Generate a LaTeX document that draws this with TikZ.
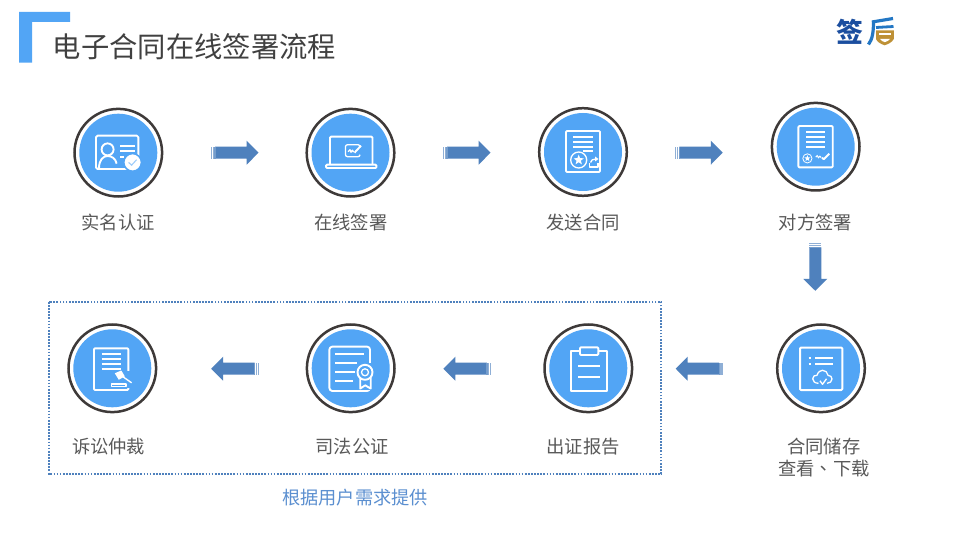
\documentclass[tikz,border=0pt]{standalone}
\usepackage{fontspec}
\setmainfont{Noto Sans CJK SC}
\newfontfamily\tcfont{Noto Sans CJK TC}
\definecolor{skyfill}{HTML}{52A5F5}
\definecolor{ringdark}{HTML}{3E3A39}
\definecolor{steelblue}{HTML}{4F81BD}
\definecolor{stripeblue}{HTML}{8FAFD6}
\definecolor{labelgrey}{HTML}{595959}
\definecolor{titlegrey}{HTML}{404040}
\definecolor{notecolor}{HTML}{5B8FD0}
\definecolor{logoblue}{HTML}{1B4E9F}
\definecolor{logosky}{HTML}{2377C4}
\definecolor{logogold}{HTML}{BE9136}
\tikzset{
  stepcircle/.style={circle,draw=ringdark,line width=2.5pt,fill=white,minimum size=87.6pt,inner sep=0pt,
    path picture={\fill[skyfill] (path picture bounding box.center) circle (39pt);}},
  steplabel/.style={text=labelgrey,font=\fontsize{18.3pt}{22pt}\selectfont,inner sep=0pt,align=center},
  iconline/.style={draw=white,line width=1.9pt,line join=round},
  thinline/.style={draw=white,line width=1.3pt,line join=round},
  blockarrow/.pic={
    \fill[steelblue] (-19.6,-6) -- (11.9,-6) -- (11.9,-12) -- (23.8,0) -- (11.9,12) -- (11.9,6) -- (-19.6,6) -- cycle;
    \fill[stripeblue] (-23.8,-6) rectangle (-22.6,6);
    \fill[stripeblue] (-22,-6) rectangle (-20.8,6);
    \fill[stripeblue!60!steelblue] (-20.3,-6) rectangle (-19.2,6);
  },
  starmark/.pic={
    \fill[white] (90:#1pt) -- (126:0.42*#1pt) -- (162:#1pt) -- (198:0.42*#1pt) -- (234:#1pt)
      -- (270:0.42*#1pt) -- (306:#1pt) -- (342:0.42*#1pt) -- (18:#1pt) -- (54:0.42*#1pt) -- cycle;
  }
}
\begin{document}
\begin{tikzpicture}[x=1pt,y=-1pt]
\useasboundingbox (0,0) rectangle (953,537);
\fill[white] (0,0) rectangle (953,537);

% heading corner mark and title
\fill[skyfill] (19,12) -- (70,12) -- (70,22) -- (32,22) -- (32,62.7) -- (19,62.7) -- cycle;
\node[anchor=west,inner sep=0pt,text=titlegrey,font=\fontsize{28.3pt}{34pt}\selectfont] (title) at (52.7,47) {电子合同在线签署流程};

% logotype
\node[inner sep=0pt,text=logoblue,font=\fontsize{27pt}{30pt}\selectfont\bfseries] (logosign) at (850,31.5) {签};
\draw[logosky,line width=3.2pt] (872,22) -- (893,18.5);
\draw[logosky,line width=3.2pt] (873.5,21) .. controls (873.5,32) and (872.5,39) .. (868.5,44.5);
\draw[logosky,line width=2.8pt] (876,27.5) -- (893.5,26.5);
\fill[logogold] (876,30.5) -- (893.8,30.5) -- (893.8,39) .. controls (892,42.5) and (888,44) .. (884.7,45.3)
  .. controls (881,44) and (877.5,42.5) .. (876,39) -- cycle;
\fill[white] (879,33.4) rectangle (891,35.4);
\fill[white] (880,39) -- (890,39) .. controls (889,40.5) and (887,41.4) .. (884.7,42.2)
  .. controls (882.5,41.4) and (881,40.5) .. (880,39) -- cycle;

% dotted frame for the on-demand services
\draw[steelblue,line width=1.8pt,dash pattern=on 1.7pt off 1.4pt] (48.6,302) rectangle (661.3,473.7);

% step circles
\node[stepcircle] (idcheck) at (118.3,152.7) {};
\node[stepcircle] (online)  at (350.5,152.7) {};
\node[stepcircle] (send)    at (583,152) {};
\node[stepcircle] (counter) at (815.7,146.7) {};
\node[stepcircle] (store)   at (821,368.3) {};
\node[stepcircle] (report)  at (588.3,368.3) {};
\node[stepcircle] (notary)  at (350.7,368.3) {};
\node[stepcircle] (court)   at (112.3,368.3) {};

% step labels
\node[steplabel] (l1) at (118,222.3) {实名认证};
\node[steplabel] (l2) at (350.7,222.3) {在线签署};
\node[steplabel] (l3) at (583,222.3) {发送合同};
\node[steplabel] (l4) at (815.5,222.3) {对方签署};
\node[steplabel] (l5) at (823.7,446.3) {合同储存};
\node[steplabel] (l5b) at (824,468.3) {查看{\tcfont 、}下载};
\node[steplabel] (l6) at (583,446.3) {出证报告};
\node[steplabel] (l7) at (352,446.3) {司法公证};
\node[steplabel] (l8) at (108.6,446.3) {诉讼仲裁};
\node[inner sep=0pt,text=notecolor,font=\fontsize{18.2pt}{22pt}\selectfont] (note) at (355,497.3) {根据用户需求提供};

% block arrows between the steps
\pic at (234.7,152.7) {blockarrow};
\pic at (466.7,152.7) {blockarrow};
\pic at (698.9,152.7) {blockarrow};
\pic[rotate=-90] at (815.3,267) {blockarrow};
\pic[rotate=180] at (699.5,368.7) {blockarrow};
\pic[rotate=180] at (467.2,368.7) {blockarrow};
\pic[rotate=180] at (235,368.7) {blockarrow};

% identity card icon
\begin{scope}[shift={(idcheck.center)}]
  \draw[iconline,rounded corners=1.5pt] (-22.3,-17) rectangle (20,16.3);
  \draw[iconline] (-10.7,-3.3) circle (6pt);
  \draw[iconline] (-19.3,15.7) .. controls (-19.3,7) and (-15,3.3) .. (-10.7,3.3) .. controls (-6.5,3.3) and (-2.5,6) .. (-1.7,11);
  \draw[iconline] (2,-7) -- (17,-7);
  \draw[iconline] (2,-2) -- (17,-2);
  \draw[iconline] (2,4.7) -- (5.3,4.7);
  \draw[draw=skyfill,line width=1.5pt,fill=white] (14.3,9.7) circle (8.8pt);
  \draw[draw=skyfill!55,line width=1.1pt] (10.3,9.7) -- (13.3,12.5) -- (18.3,7);
\end{scope}

% laptop icon with signature
\begin{scope}[shift={(online.center)}]
  \draw[iconline,rounded corners=1pt] (-20.5,12) -- (-20.5,-16) -- (22,-16) -- (22,12);
  \draw[iconline,rounded corners=1pt] (-24.5,12) rectangle (26,15.3);
  \draw[thinline,rounded corners=2pt] (9.5,-5) -- (9.5,-8) -- (-5,-8) -- (-5,4) -- (9.5,4) -- (9.5,2);
  \draw[thinline] (-2.5,-1) -- (-0.5,-3) -- (0.5,-0.5) -- (2,-2.5) -- (3,-0.5);
  \draw[iconline] (4,0) -- (10.5,-7);
\end{scope}

% contract with star seal and send mark
\begin{scope}[shift={(send.center)}]
  \draw[iconline,rounded corners=1pt] (-17,-21) rectangle (17,20);
  \draw[iconline] (-9.7,-15.3) -- (9.7,-15.3);
  \draw[iconline] (-9.7,-10) -- (9.7,-10);
  \draw[iconline] (-9.7,-4.7) -- (9.7,-4.7);
  \draw[thinline] (0,-1) -- (9.7,-1);
  \draw[thinline,fill=skyfill] (-4.3,8) circle (8pt);
  \pic at (-4.3,8) {starmark=5.4};
  \draw[thinline] (6.5,11) -- (6.5,15) -- (15,15) -- (15,11);
  \draw[thinline] (7.5,10.5) .. controls (8,8) and (10,7) .. (13,7);
  \fill[white] (12,4.5) -- (15.5,7) -- (12,9.5) -- cycle;
\end{scope}

% signed page icon
\begin{scope}[shift={(counter.center)}]
  \draw[iconline,rounded corners=1pt] (-17.3,-20.7) rectangle (17,20.7);
  \draw[iconline] (-9.7,-14.7) -- (9.3,-14.7);
  \draw[iconline] (-9.7,-9.7) -- (9.3,-9.7);
  \draw[iconline] (-9.7,-5) -- (9.3,-5);
  \draw[iconline] (-9.7,0) -- (9.3,0);
  \draw[draw=white,line width=0.8pt] (-8.3,11.7) circle (4.6pt);
  \pic at (-8.3,11.7) {starmark=3.2};
  \draw[draw=white,line width=1pt] (0,10.5) -- (1.5,9) -- (2.7,11) -- (4.2,9.5) -- (5.5,11);
  \draw[iconline] (6.3,11) -- (8,12.5) -- (13.5,7);
\end{scope}

% storage icon with cloud
\begin{scope}[shift={(store.center)}]
  \draw[iconline,line width=2pt,rounded corners=1pt] (-21,-20.7) rectangle (21.3,21.7);
  \draw[iconline] (-12.3,-10.7) -- (-9.7,-10.7);
  \draw[iconline] (-12.3,-4.7) -- (-9.7,-4.7);
  \draw[iconline] (-6,-10.7) -- (12.3,-10.7);
  \draw[iconline] (-6,-4.7) -- (12.3,-4.7);
  \draw[thinline] (-2.5,15) .. controls (-6,15) and (-8.3,13) .. (-8.3,10.5)
    .. controls (-8.3,8) and (-6,6.5) .. (-4,7)
    .. controls (-3,3.5) and (-0.5,2) .. (1.5,2)
    .. controls (4.5,2) and (6.5,4) .. (7,7)
    .. controls (9.5,7) and (11,8.7) .. (11,10.7)
    .. controls (11,13) and (9,15) .. (6,15);
  \draw[thinline] (-1,12.5) -- (1.5,16) -- (5.5,10.5);
\end{scope}

% clipboard icon
\begin{scope}[shift={(report.center)}]
  \draw[iconline,line width=2pt] (-17.7,-17.7) rectangle (19,22.7);
  \draw[iconline,fill=skyfill,rounded corners=1pt] (-8.3,-21) rectangle (10,-13.3);
  \draw[iconline] (-10.3,-2.3) -- (11.7,-2.3);
  \draw[iconline] (-10.3,8.7) -- (11.7,8.7);
\end{scope}

% certificate icon with ribbon
\begin{scope}[shift={(notary.center)}]
  \draw[iconline,rounded corners=3pt] (-21.3,-21.7) rectangle (19.3,22.7);
  \draw[iconline] (-15.7,-14) -- (13.3,-14);
  \draw[iconline] (-15.7,-5) -- (6,-5);
  \draw[iconline] (-15.7,4) -- (4.3,4);
  \draw[iconline] (-15.7,13) -- (2.7,13);
  \fill[skyfill] (6.5,-5) rectangle (23,22);
  \draw[iconline,fill=skyfill] (9.5,9) -- (9.5,20.3) -- (14.5,17) -- (20,20.3) -- (20,9);
  \draw[iconline,fill=skyfill] (14.3,4) circle (7.5pt);
  \draw[thinline] (14.3,4) circle (3.5pt);
\end{scope}

% judgement page with gavel
\begin{scope}[shift={(court.center)}]
  \draw[iconline,rounded corners=1pt] (-18.3,-20) rectangle (16,21.7);
  \draw[iconline] (-10.7,-14.3) -- (8.3,-14.3);
  \draw[iconline] (-10.7,-9.3) -- (8.3,-9.3);
  \draw[iconline] (-10.7,-4.7) -- (8.3,-4.7);
  \draw[iconline] (-10.7,0.3) -- (8.3,0.3);
  \fill[skyfill] (-2.5,2.5) rectangle (22,20);
  \fill[white] (2.5,5) -- (9,2.2) -- (12.5,8) -- (6.5,11.5) -- cycle;
  \draw[iconline,line width=1.4pt] (10,8) -- (19.3,14.5);
  \draw[thinline] (-1,18.3) rectangle (13.7,15.7);
\end{scope}
\end{tikzpicture}
\end{document}
